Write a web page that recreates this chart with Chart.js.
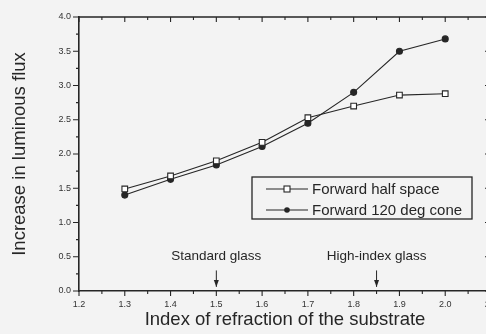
<!DOCTYPE html>
<html>
<head>
<meta charset="utf-8">
<script src="https://cdn.jsdelivr.net/npm/chart.js@4.4.1/dist/chart.umd.min.js"></script>
<style>
  html, body { margin: 0; padding: 0; background: #f3f3f3; overflow: hidden; }
  #wrap { width: 486px; height: 334px; overflow: hidden; }
</style>
</head>
<body>
<div id="wrap"><canvas id="chart" width="520" height="334"></canvas></div>
<script>
// ─── Data ─────────────────────────────────────────────────────────
const indexValues = [1.3, 1.4, 1.5, 1.6, 1.7, 1.8, 1.9, 2.0];
const halfSpace = [1.49, 1.68, 1.9, 2.17, 2.53, 2.7, 2.86, 2.88];
const cone120 = [1.4, 1.63, 1.84, 2.11, 2.45, 2.9, 3.5, 3.68];
const seriesNames = ["Forward half space", "Forward 120 deg cone"];
const markerLabels = ["Standard glass", "High-index glass"];
const markerIndex = [1.5, 1.85];

const FONT = "'Liberation Sans', Arial, sans-serif";
const INK = "#262626";
const BG = "#f3f3f3";

const toPoints = (ys) => indexValues.map((x, i) => ({ x, y: ys[i] }));

// ─── Frame, ticks, annotations, legend ────────────────────────────
const decorations = {
  id: "decorations",
  afterDraw(chart) {
    const { ctx, chartArea: a, scales: { x, y } } = chart;
    ctx.save();
    ctx.strokeStyle = INK;
    ctx.fillStyle = INK;

    // top and right frame lines
    ctx.lineWidth = 1.6;
    ctx.beginPath();
    ctx.moveTo(a.left, a.top);
    ctx.lineTo(a.right, a.top);
    ctx.lineTo(a.right, a.bottom);
    ctx.stroke();

    // ticks: outward on bottom/left, inward on top/right
    ctx.lineWidth = 1.1;
    ctx.beginPath();
    for (let i = 0; i <= 18; i++) {
      const px = x.getPixelForValue(1.2 + i * 0.05);
      const len = i % 2 === 0 ? 5 : 3;
      ctx.moveTo(px, a.bottom); ctx.lineTo(px, a.bottom + len);
      ctx.moveTo(px, a.top); ctx.lineTo(px, a.top + len);
    }
    for (let i = 0; i <= 16; i++) {
      const py = y.getPixelForValue(i * 0.25);
      const len = i % 2 === 0 ? 6 : 3;
      ctx.moveTo(a.left, py); ctx.lineTo(a.left - len, py);
      ctx.moveTo(a.right, py); ctx.lineTo(a.right - len, py);
    }
    ctx.stroke();

    // substrate markers
    ctx.font = `13.5px ${FONT}`;
    ctx.textAlign = "center";
    ctx.textBaseline = "middle";
    markerLabels.forEach((label, i) => {
      const px = x.getPixelForValue(markerIndex[i]);
      ctx.fillText(label, px, y.getPixelForValue(0.5));
      const top = y.getPixelForValue(0.3);
      const tip = y.getPixelForValue(0.06);
      ctx.lineWidth = 1;
      ctx.beginPath();
      ctx.moveTo(px, top); ctx.lineTo(px, tip);
      ctx.stroke();
      ctx.beginPath();
      ctx.moveTo(px - 2.5, tip - 7); ctx.lineTo(px + 2.5, tip - 7); ctx.lineTo(px, tip);
      ctx.closePath();
      ctx.fill();
    });

    // legend box
    const box = { left: 252, top: 177, right: 472, bottom: 219 };
    ctx.lineWidth = 1.3;
    ctx.fillStyle = BG;
    ctx.fillRect(box.left, box.top, box.right - box.left, box.bottom - box.top);
    ctx.strokeRect(box.left, box.top, box.right - box.left, box.bottom - box.top);
    ctx.font = `15px ${FONT}`;
    ctx.textAlign = "left";
    chart.data.datasets.forEach((ds, i) => {
      const cy = 189 + i * 21;
      ctx.lineWidth = 1.1;
      ctx.beginPath();
      ctx.moveTo(266, cy); ctx.lineTo(308, cy);
      ctx.stroke();
      if (ds.pointStyle === "rect") {
        ctx.fillStyle = "#ffffff";
        ctx.fillRect(284, cy - 3, 6, 6);
        ctx.strokeRect(284, cy - 3, 6, 6);
      } else {
        ctx.fillStyle = INK;
        ctx.beginPath();
        ctx.arc(287, cy, 2.8, 0, Math.PI * 2);
        ctx.fill();
      }
      ctx.fillStyle = INK;
      ctx.fillText(ds.label, 312, cy + 1);
    });
    ctx.restore();
  },
};

// ─── Chart ────────────────────────────────────────────────────────
new Chart(document.getElementById("chart"), {
  type: "line",
  data: {
    datasets: [
      {
        label: seriesNames[0],
        data: toPoints(halfSpace),
        borderColor: INK,
        borderWidth: 1.1,
        pointStyle: "rect",
        pointRadius: 4,
        pointBackgroundColor: "#ffffff",
        pointBorderColor: INK,
        pointBorderWidth: 1.1,
        tension: 0,
      },
      {
        label: seriesNames[1],
        data: toPoints(cone120),
        borderColor: INK,
        borderWidth: 1.1,
        pointStyle: "circle",
        pointRadius: 3,
        pointBackgroundColor: INK,
        pointBorderColor: INK,
        tension: 0,
      },
    ],
  },
  options: {
    responsive: false,
    animation: false,
    layout: { padding: { top: 17, right: 29, left: 0, bottom: 0 } },
    plugins: { legend: { display: false }, tooltip: { enabled: false } },
    scales: {
      x: {
        type: "linear",
        min: 1.2,
        max: 2.1,
        afterFit: (s) => { s.height = 43; },
        border: { display: true, color: INK, width: 1.6 },
        grid: { display: false },
        ticks: {
          stepSize: 0.1,
          padding: 0,
          color: "#333",
          font: { family: FONT, size: 9 },
          maxRotation: 0,
          callback: (v) => v.toFixed(1),
        },
        title: {
          display: true,
          text: "Index of refraction of the substrate",
          color: INK,
          font: { family: FONT, size: 18.5 },
          padding: { top: 0, bottom: 3 },
        },
      },
      y: {
        min: 0,
        max: 4,
        afterFit: (s) => { s.width = 79; },
        border: { display: true, color: INK, width: 1.6 },
        grid: { display: false },
        ticks: {
          stepSize: 0.5,
          padding: 0,
          color: "#333",
          font: { family: FONT, size: 9 },
          callback: (v) => v.toFixed(1),
        },
        title: {
          display: true,
          text: "Increase in luminous flux",
          color: INK,
          font: { family: FONT, size: 18.5 },
          padding: { top: 9, bottom: 0 },
        },
      },
    },
  },
  plugins: [decorations],
});
</script>
</body>
</html>
